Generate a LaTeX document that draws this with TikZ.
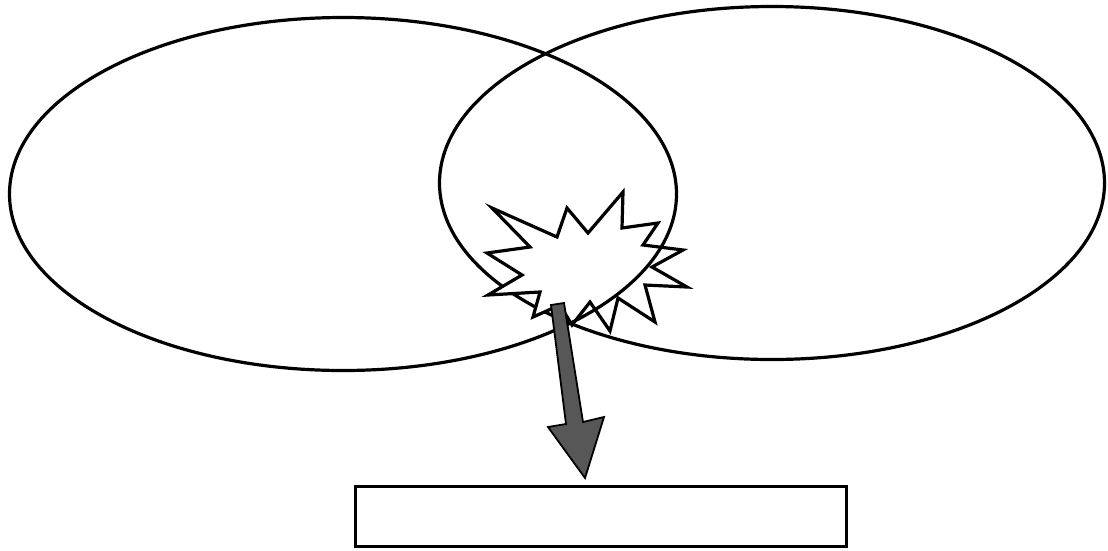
\documentclass[tikz,border=0pt]{standalone}
\usetikzlibrary{shapes.geometric}
\begin{document}
\begin{tikzpicture}[x=1pt,y=-1pt,
  ring/.style={draw=black,ellipse,line width=3.2pt,inner sep=0pt,outer sep=0pt},
  burst/.style={draw=black,fill=white,line width=3.2pt,line join=miter,miter limit=10},
  bigarrow/.style={draw=black,fill=black!66,line width=1.8pt,line join=miter},
  outbox/.style={draw=black,line width=3.8pt,inner sep=0pt,outer sep=0pt}]
\useasboundingbox (0,0) rectangle (1108,550);
% right ellipse (behind the burst)
\node[ring,minimum width=665pt,minimum height=353pt] (R) at (772,183) {};
% starburst
\draw[burst] (492,208) -- (557,237) -- (567,208) -- (588,233) -- (623,192) -- (622,228)
  -- (658,223) -- (643,245) -- (683,250) -- (652,267) -- (687,287) -- (645,285)
  -- (655,322) -- (618,298) -- (610,331) -- (590,302) -- (572,325) -- (560,305)
  -- (533,317) -- (540,292) -- (488,295) -- (522,275) -- (487,253) -- (530,247) -- cycle;
% left ellipse (over the burst)
\node[ring,minimum width=667pt,minimum height=353pt] (L) at (343,194) {};
% output box
\node[outbox,minimum width=491pt,minimum height=60pt] (B) at (601,516.5) {};
% arrow from the burst to the box
\coordinate (tip) at (585,478);
\draw[bigarrow] (551,305) -- (564,303) -- (583,422) -- (604,417) -- (tip)
  -- (548,427) -- (566,424) -- cycle;
\end{tikzpicture}
\end{document}
